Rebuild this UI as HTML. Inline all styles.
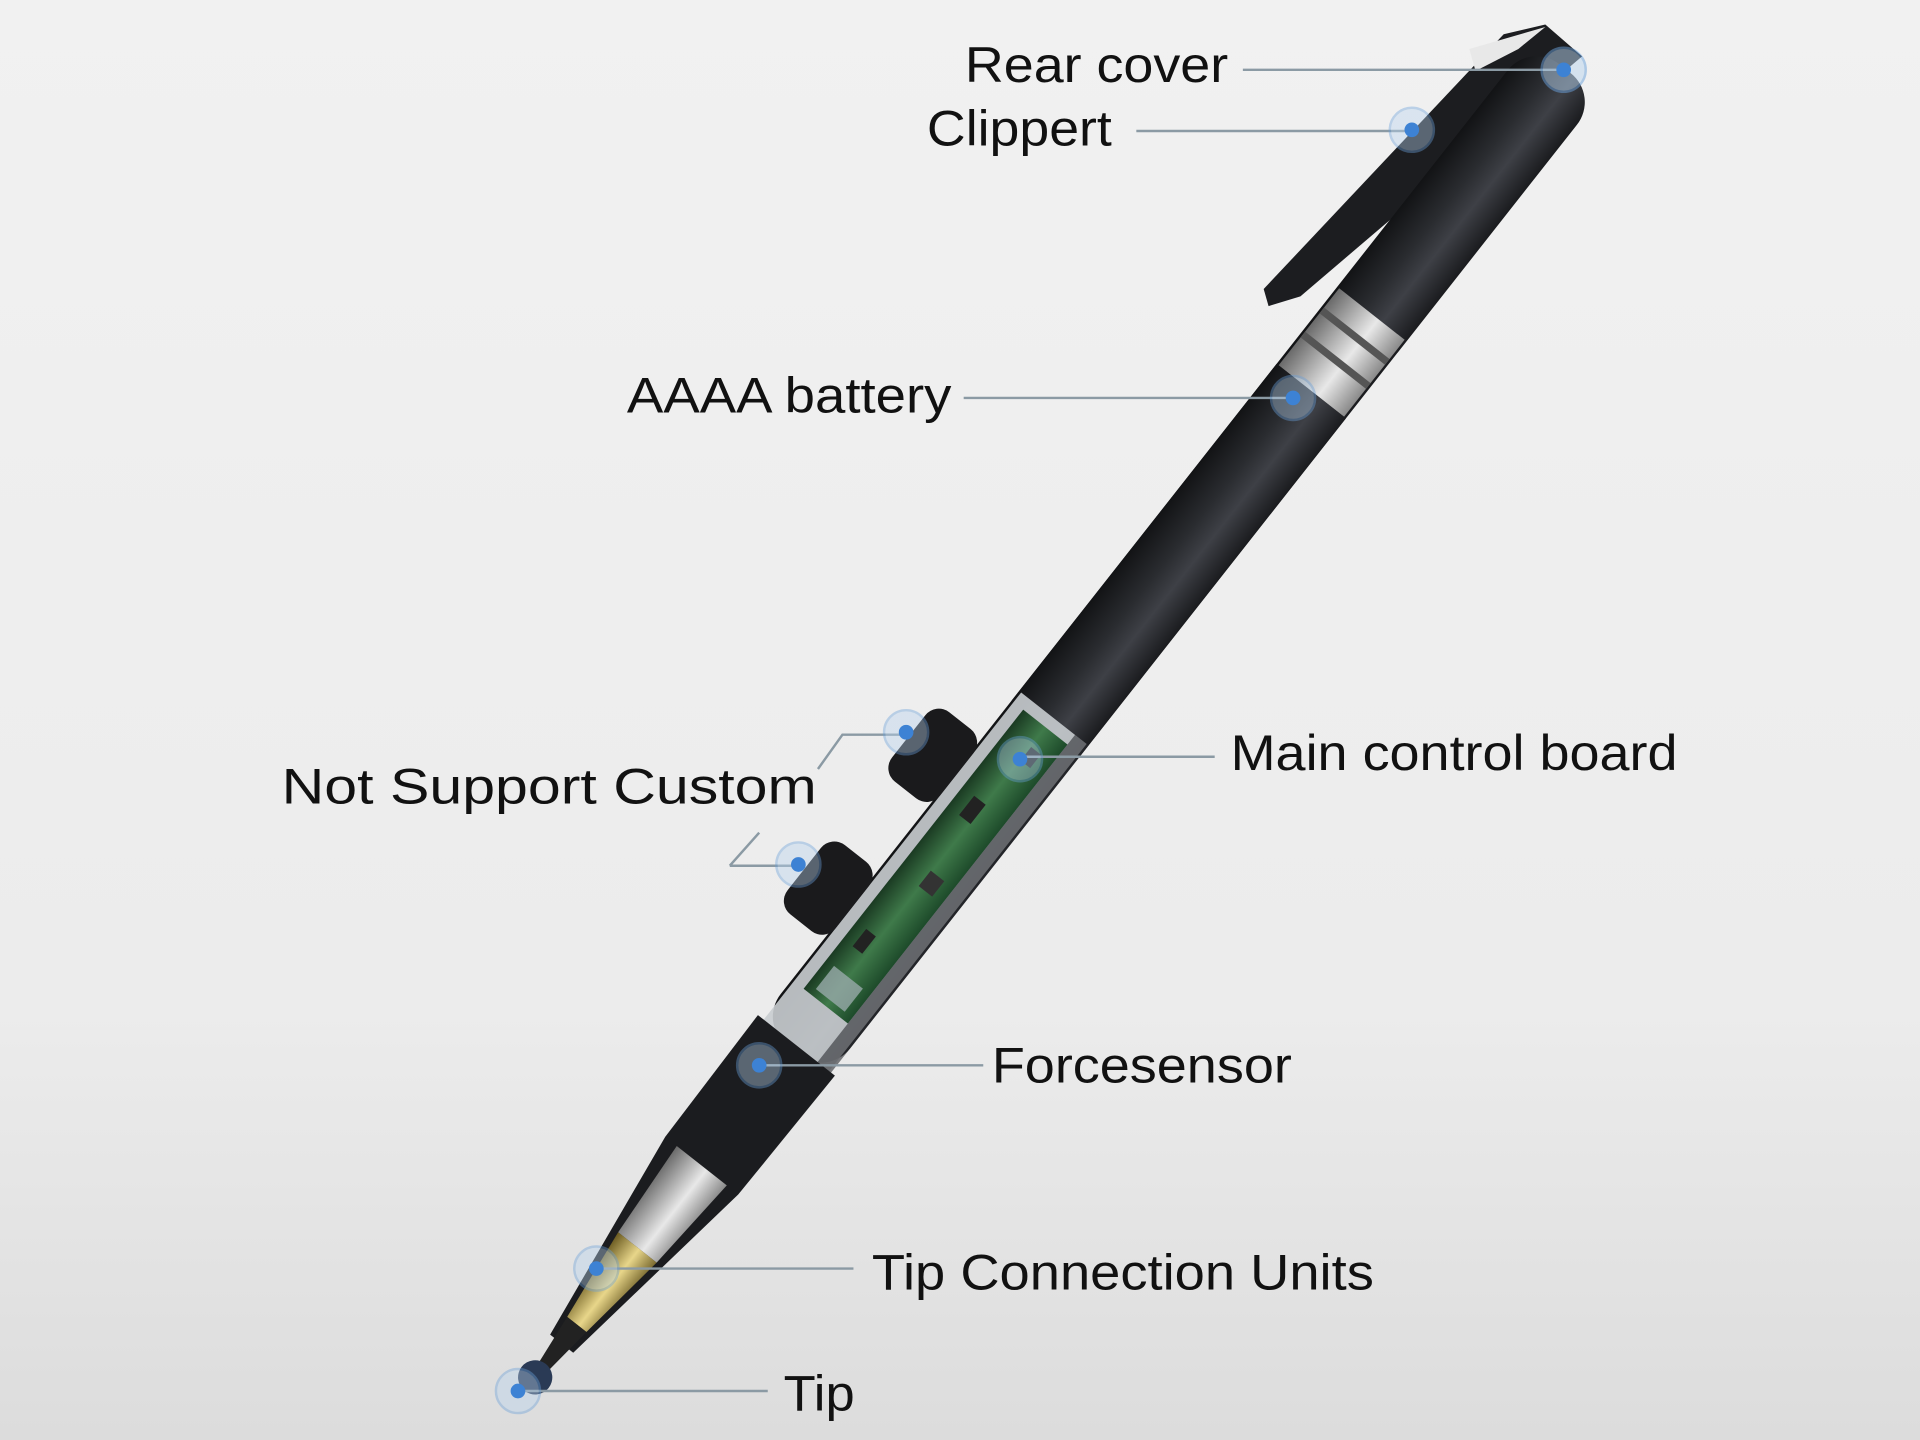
<!DOCTYPE html>
<html><head><meta charset="utf-8"><style>
html,body{margin:0;padding:0;width:1920px;height:1440px;overflow:hidden;background:#efefef}
svg{display:block}
text{font-family:"Liberation Sans",sans-serif;fill:#111;font-size:41px}
</style></head><body>
<svg width="1920" height="1440" viewBox="0 0 1568 1176" xmlns="http://www.w3.org/2000/svg">
<defs>
<linearGradient id="bg" x1="0" y1="0" x2="0" y2="1">
<stop offset="0" stop-color="#f1f1f1"/><stop offset="0.7" stop-color="#ececec"/><stop offset="1" stop-color="#dcdcdc"/></linearGradient>
<linearGradient id="body" x1="0" y1="0" x2="0" y2="1">
<stop offset="0" stop-color="#1a1b1e"/><stop offset="0.35" stop-color="#3e4046"/><stop offset="0.6" stop-color="#2a2c30"/><stop offset="1" stop-color="#121315"/></linearGradient>
<linearGradient id="silver" x1="0" y1="0" x2="0" y2="1">
<stop offset="0" stop-color="#8a8a8a"/><stop offset="0.4" stop-color="#e8e8e8"/><stop offset="1" stop-color="#6a6a6a"/></linearGradient>
<linearGradient id="gold" x1="0" y1="0" x2="0" y2="1">
<stop offset="0" stop-color="#7a6a30"/><stop offset="0.45" stop-color="#e8d68a"/><stop offset="1" stop-color="#6a5a20"/></linearGradient>
<linearGradient id="pcb" x1="0" y1="0" x2="0" y2="1">
<stop offset="0" stop-color="#1d4a2a"/><stop offset="0.5" stop-color="#3f7a4a"/><stop offset="1" stop-color="#1a3a22"/></linearGradient>
</defs>
<rect width="1568" height="1176" fill="url(#bg)"/>

<polygon points="1228,28 1262,20 1292,46 1062,242 1036,250 1032,236" fill="#1c1d20"/>
<polygon points="1200,40 1262,22 1240,40 1205,58" fill="#e8e8e8"/>

<g transform="translate(1275,60) rotate(128.2)">
 <rect x="-5" y="-36" width="1020" height="72" rx="30" fill="url(#body)"/>
 <rect x="250" y="-34" width="80" height="68" fill="url(#silver)"/>
 <rect x="270" y="-34" width="6" height="68" fill="#555"/>
 <rect x="295" y="-34" width="6" height="68" fill="#555"/>
 <rect x="330" y="-36" width="350" height="72" fill="url(#body)"/>
 <rect x="670" y="-34" width="350" height="68" fill="#c9cdd0" opacity="0.9"/>
 <rect x="680" y="-22" width="290" height="46" fill="url(#pcb)"/>
 <rect x="700" y="-10" width="14" height="10" fill="#222"/><rect x="760" y="0" width="20" height="12" fill="#222"/>
 <rect x="830" y="-12" width="16" height="14" fill="#333"/><rect x="900" y="4" width="18" height="10" fill="#222"/>
 <rect x="940" y="-14" width="24" height="30" fill="#9aa" opacity="0.8"/>
 <rect x="670" y="-36" width="350" height="14" fill="#2a2c30" opacity="0.6"/>
 <rect x="719" y="34" width="72" height="50" rx="14" fill="#1a1a1c"/>
 <rect x="857" y="34" width="72" height="50" rx="14" fill="#1a1a1c"/>
 <rect x="1015" y="-34" width="120" height="68" fill="url(#silver)"/>
 <rect x="1045" y="-34" width="6" height="68" fill="#eee"/><rect x="1080" y="-34" width="6" height="68" fill="#eee"/>
 <polygon points="1010,-40 1135,-38 1320,-12 1320,12 1135,38 1010,40" fill="#1b1c1f"/>
 <polygon points="1135,-26 1220,-20 1220,20 1135,26" fill="url(#silver)"/>
 <polygon points="1220,-20 1300,-10 1300,10 1220,20" fill="url(#gold)"/>
 <polygon points="1300,-10 1345,-5 1345,5 1300,10" fill="#222"/>
 <circle cx="1355" cy="0" r="14" fill="#2a3a55"/>
</g>

<g stroke="#8b9aa4" stroke-width="2" fill="none">
<line x1="1015" y1="57" x2="1275" y2="57"/>
<line x1="928" y1="107" x2="1150" y2="107"/>
<line x1="787" y1="325" x2="1055" y2="325"/>
<line x1="992" y1="618" x2="835" y2="618"/>
<line x1="803" y1="870" x2="620" y2="870"/>
<line x1="697" y1="1036" x2="487" y2="1036"/>
<line x1="627" y1="1136" x2="425" y2="1136"/>
<polyline points="668,628 688,600 740,600"/>
<polyline points="596,707 620,680"/>
<line x1="596" y1="707" x2="650" y2="707"/>
</g>

<g fill="#3d82d4">
<g><circle cx="1277" cy="57" r="18" fill="#b8d4ef" opacity="0.5" stroke="#6aa0da" stroke-width="2"/><circle cx="1277" cy="57" r="6"/></g>
<g><circle cx="1153" cy="106" r="18" fill="#b8d4ef" opacity="0.4" stroke="#6aa0da" stroke-width="2"/><circle cx="1153" cy="106" r="6"/></g>
<g><circle cx="1056" cy="325" r="18" fill="#b8d4ef" opacity="0.4" stroke="#6aa0da" stroke-width="2"/><circle cx="1056" cy="325" r="6"/></g>
<g><circle cx="740" cy="598" r="18" fill="#b8d4ef" opacity="0.4" stroke="#6aa0da" stroke-width="2"/><circle cx="740" cy="598" r="6"/></g>
<g><circle cx="833" cy="620" r="18" fill="#b8d4ef" opacity="0.4" stroke="#6aa0da" stroke-width="2"/><circle cx="833" cy="620" r="6"/></g>
<g><circle cx="652" cy="706" r="18" fill="#b8d4ef" opacity="0.4" stroke="#6aa0da" stroke-width="2"/><circle cx="652" cy="706" r="6"/></g>
<g><circle cx="620" cy="870" r="18" fill="#b8d4ef" opacity="0.4" stroke="#6aa0da" stroke-width="2"/><circle cx="620" cy="870" r="6"/></g>
<g><circle cx="487" cy="1036" r="18" fill="#b8d4ef" opacity="0.4" stroke="#6aa0da" stroke-width="2"/><circle cx="487" cy="1036" r="6"/></g>
<g><circle cx="423" cy="1136" r="18" fill="#b8d4ef" opacity="0.4" stroke="#6aa0da" stroke-width="2"/><circle cx="423" cy="1136" r="6"/></g>
</g>

<text x="788" y="67" textLength="215" lengthAdjust="spacingAndGlyphs">Rear cover</text>
<text x="757" y="119" textLength="151" lengthAdjust="spacingAndGlyphs">Clippert</text>
<text x="512" y="337" textLength="265" lengthAdjust="spacingAndGlyphs">AAAA battery</text>
<text x="230" y="656" textLength="437" lengthAdjust="spacingAndGlyphs">Not Support Custom</text>
<text x="1005" y="629" textLength="365" lengthAdjust="spacingAndGlyphs">Main control board</text>
<text x="810" y="884" textLength="245" lengthAdjust="spacingAndGlyphs">Forcesensor</text>
<text x="712" y="1053" textLength="410" lengthAdjust="spacingAndGlyphs">Tip Connection Units</text>
<text x="640" y="1152" textLength="58" lengthAdjust="spacingAndGlyphs">Tip</text>
</svg>
</body></html>
